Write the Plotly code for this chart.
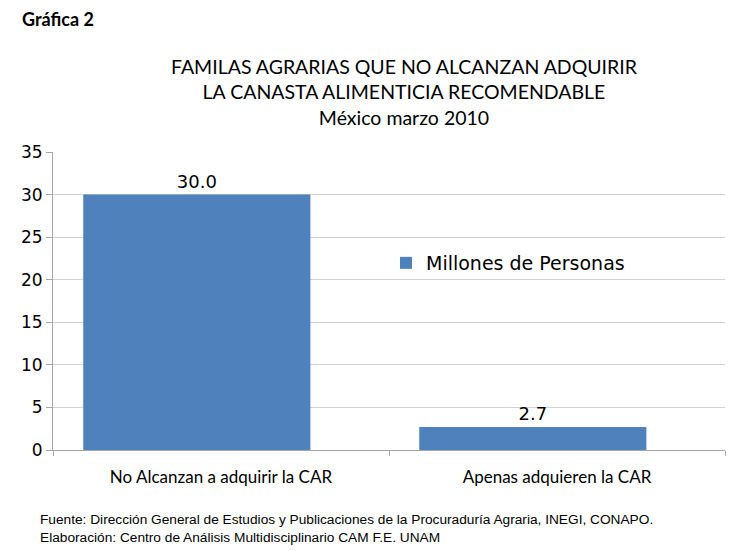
import plotly.graph_objects as go

categories = ["No Alcanzan a adquirir la CAR", "Apenas adquieren la CAR"]
values = [30.0, 2.7]
value_labels = ["30.0", "2.7"]
series_name = "Millones de Personas"
y_ticks = [0, 5, 10, 15, 20, 25, 30, 35]

W, H = 745, 551
pl, pr, pt, pb = 53, 20, 152, 101
pw, ph = W - pl - pr, H - pt - pb

def px(x):
    return (x - pl) / pw

def py(y):
    return (H - pb - y) / ph

fig = go.Figure()
fig.add_trace(go.Bar(
    x=categories, y=values, name=series_name,
    marker=dict(color="#4F81BD", line=dict(width=0)),
    width=0.676, offset=-0.41,
    text=value_labels, textposition="outside", cliponaxis=False,
    textfont=dict(family="DejaVu Sans", size=18, color="#000000"),
    showlegend=True,
))

annots = [
    dict(text="<b>Gráfica 2</b>", x=px(20), y=py(19), xanchor="left", yanchor="middle",
         font=dict(family="Lato", size=18, color="#000000")),
    dict(text="FAMILAS AGRARIAS QUE NO ALCANZAN ADQUIRIR<br>LA CANASTA ALIMENTICIA RECOMENDABLE<br>México marzo 2010",
         x=px(404), y=py(92), xanchor="center", yanchor="middle",
         font=dict(family="Lato", size=19.5, color="#000000")),
    dict(text="Fuente: Dirección General de Estudios y Publicaciones de la Procuraduría Agraria, INEGI, CONAPO.<br>Elaboración: Centro de Análisis Multidisciplinario CAM F.E. UNAM",
         x=px(38), y=py(528), xanchor="left", yanchor="middle", align="left",
         font=dict(family="Liberation Sans", size=13.7, color="#000000")),
]
for a in annots:
    a.update(xref="paper", yref="paper", showarrow=False)

fig.update_layout(
    width=W, height=H,
    margin=dict(l=pl, r=pr, t=pt, b=pb),
    paper_bgcolor="white", plot_bgcolor="white",
    font=dict(family="DejaVu Sans", color="#000000"),
    showlegend=True,
    legend=dict(x=px(386), y=py(263), xanchor="left", yanchor="middle",
                font=dict(family="DejaVu Sans", size=19, color="#000000"),
                bgcolor="rgba(0,0,0,0)", itemwidth=30),
    xaxis=dict(
        type="category", showgrid=False, showline=True, linecolor="#a6a6a6", linewidth=1,
        ticks="outside", tickson="boundaries", ticklen=5, tickcolor="#a6a6a6",
        ticklabelstandoff=12,
        tickfont=dict(family="Lato", size=17, color="#000000"),
    ),
    yaxis=dict(
        range=[0, 35], tickvals=y_ticks, showgrid=True, gridcolor="#d3d3d3", gridwidth=1,
        showline=True, linecolor="#a6a6a6", linewidth=1, zeroline=False,
        ticks="outside", ticklen=6, tickcolor="#a6a6a6",
        tickfont=dict(family="DejaVu Sans", size=17, color="#000000"),
    ),
    annotations=annots,
)

fig.write_html("out.html")
